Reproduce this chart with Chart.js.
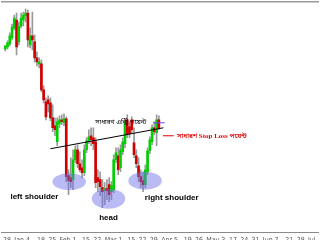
<!DOCTYPE html>
<html>
<head>
<meta charset="utf-8">
<script src="https://cdn.jsdelivr.net/npm/chart.js@4.4.0/dist/chart.umd.min.js"></script>
<style>
html, body { margin: 0; padding: 0; background: #fff; overflow: hidden; }
#wrap { width: 320px; height: 251px; }
</style>
</head>
<body>
<div id="wrap"><canvas id="chart" width="320" height="251"></canvas></div>
<script>
// one label per Monday, blank where the chart skips it
var weekLabels = ['28', 'Jan 4', '', '18', '25', 'Feb 1', '', '15', '22', 'Mar 1', '', '15', '22', '29',
                  'Apr 5', '', '19', '26', 'May 3', '', '17', '24', '31', 'Jun 7', '', '21', '28', 'Jul'];

// daily candles, first one is the day after "28"
var firstCandle = 1;
var opens  = [184,186,189,195,205,213,191,207,213,217,220,188,197,191,175,169,169,143,131,133,
              130,115,107, 91,109,113,110,114, 57, 55, 53, 73, 83, 69, 65, 60, 83, 91, 97, 95,
               91, 55, 53, 45, 42, 44, 48, 41, 43, 73, 77, 65, 81, 89,113,106,113, 90, 77, 67,
               56, 52, 48, 61, 82, 91,105,100,113];
var highs  = [187,192,200,209,218,220,211,220,221,224,223,205,221,198,181,175,173,147,135,137,
              135,128,115,115,117,118,119,116, 63, 75, 83, 87, 88, 81, 73, 88, 95,103,105,105,
               95, 63, 61, 53, 50, 53, 55, 51, 78, 85, 85, 88, 95,113,118,111,116,105, 83, 75,
               63, 61, 68, 85, 96,108,111,118,117];
var lows   = [182,184,187,193,203,178,188,205,207,211,186,185,183,171,167,165,141,130,113,121,
              112,101, 97, 87,105,108,107, 51, 38, 45, 43, 70, 65, 61, 55, 57, 80, 89, 87, 83,
               45, 41, 37, 25, 28, 33, 31, 33, 40, 70, 58, 61, 78, 85, 95, 95,100, 75, 65, 51,
               45, 41, 45, 58, 79, 88, 98, 87,103];
var closes = [187,190,197,206,215,186,207,215,218,220,193,197,193,175,171,171,143,133,116,129,
              115,105,103,111,113,111,114, 56, 52, 51, 73, 83, 69, 63, 60, 83, 92, 96, 93, 89,
               50, 51, 46, 41, 44, 42, 38, 47, 73, 80, 63, 83, 91,111, 99, 99,103, 78, 69, 56,
               51, 48, 63, 82, 93,105,101,113,105];

// pattern annotations, in category index / price units
var neckX = [21, 71], neckY = [84, 105];
var entryX = [66.4, 71.6], entryY = 110;
var stopX = [70.8, 75.6], stopY = 97;
var ellipses = [[29.3, 51, 7.4, 8.5], [46.7, 34, 7.4, 10], [62.9, 52, 7.4, 9]];
var notes = [
  {text: 'left shoulder', x: 13.9, y: 36, align: 'center', color: '#000', font: 'bold 8px "Liberation Sans", Arial, sans-serif'},
  {text: 'head', x: 46.7, y: 15, align: 'center', color: '#000', font: 'bold 8px "Liberation Sans", Arial, sans-serif'},
  {text: 'right shoulder', x: 74.7, y: 35, align: 'center', color: '#000', font: 'bold 8px "Liberation Sans", Arial, sans-serif'},
  {text: 'সাধারণ এন্ট্রি পয়েন্ট', x: 63.4, y: 110, align: 'right', color: '#000', font: '6.5px "Noto Sans Bengali", "Noto Sans", sans-serif'},
  {text: 'সাধারণ Stop Loss পয়েন্ট', x: 77, y: 97, align: 'left', color: '#e00000', font: 'bold 7px "Liberation Serif", "Noto Serif Bengali", serif'}
];

var categories = [];
weekLabels.forEach(function (w) {
  categories.push(w, '', '', '', '');
});

var bodies = [], wicks = [];
for (var i = 0; i < categories.length; i++) {
  var k = i - firstCandle;
  if (k >= 0 && k < opens.length) {
    bodies.push(closes[k] === opens[k] ? [opens[k] - 0.5, closes[k] + 0.5] : [opens[k], closes[k]]);
    wicks.push([lows[k], highs[k]]);
  } else {
    bodies.push(null);
    wicks.push(null);
  }
}

var overlay = {
  id: 'overlay',
  afterDatasetsDraw: function (chart) {
    var ctx = chart.ctx, xs = chart.scales.x, ys = chart.scales.y;
    function px(v) { return xs.getPixelForValue(v); }
    function py(v) { return ys.getPixelForValue(v); }
    ctx.save();

    ctx.lineWidth = 1;
    ctx.strokeStyle = '#000';
    ctx.beginPath();
    ctx.moveTo(px(neckX[0]), py(neckY[0]));
    ctx.lineTo(px(neckX[1]), py(neckY[1]));
    ctx.stroke();

    ctx.strokeStyle = '#5050ff';
    ctx.beginPath();
    ctx.moveTo(px(entryX[0]), py(entryY));
    ctx.lineTo(px(entryX[1]), py(entryY));
    ctx.stroke();

    ctx.strokeStyle = '#e00000';
    ctx.beginPath();
    ctx.moveTo(px(stopX[0]), py(stopY));
    ctx.lineTo(px(stopX[1]), py(stopY));
    ctx.stroke();

    ctx.fillStyle = 'rgba(110,110,235,0.48)';
    ellipses.forEach(function (e) {
      var cx = px(e[0]), cy = py(e[1]);
      ctx.beginPath();
      ctx.ellipse(cx, cy, Math.abs(px(e[0] + e[2]) - cx), Math.abs(py(e[1] + e[3]) - cy), 0, 0, Math.PI * 2);
      ctx.fill();
    });

    ctx.textBaseline = 'middle';
    notes.forEach(function (n) {
      ctx.font = n.font;
      ctx.fillStyle = n.color;
      ctx.textAlign = n.align;
      ctx.fillText(n.text, px(n.x), py(n.y));
    });
    ctx.restore();
  }
};

new Chart(document.getElementById('chart'), {
  type: 'bar',
  data: {
    labels: categories,
    datasets: [
      {
        data: bodies,
        grouped: false,
        order: 1,
        barThickness: 2,
        backgroundColor: function (c) {
          var k = c.dataIndex - firstCandle;
          return closes[k] >= opens[k] ? '#00d000' : '#d00000';
        }
      },
      {
        data: wicks,
        grouped: false,
        order: 2,
        barThickness: 1,
        backgroundColor: '#999999'
      }
    ]
  },
  options: {
    responsive: false,
    animation: false,
    layout: { padding: { top: 2, bottom: 4, left: 0, right: 0 } },
    plugins: { legend: { display: false }, tooltip: { enabled: false } },
    scales: {
      x: {
        type: 'category',
        offset: true,
        grid: { display: false, drawTicks: false },
        border: { color: '#8a8a8a', width: 1 },
        ticks: {
          autoSkip: false,
          maxRotation: 0,
          align: 'start',
          padding: 3,
          color: '#555',
          font: { size: 7, family: '"Liberation Sans Narrow", "DejaVu Sans Condensed", sans-serif' },
          callback: function (v, i) { return categories[i]; }
        }
      },
      x2: {
        type: 'category',
        axis: 'x',
        position: 'top',
        offset: true,
        grid: { display: false, drawTicks: false },
        border: { color: '#999', width: 1.5 },
        ticks: { display: false }
      },
      y: { display: false, min: 0, max: 231 }
    }
  },
  plugins: [overlay]
});
</script>
</body>
</html>
